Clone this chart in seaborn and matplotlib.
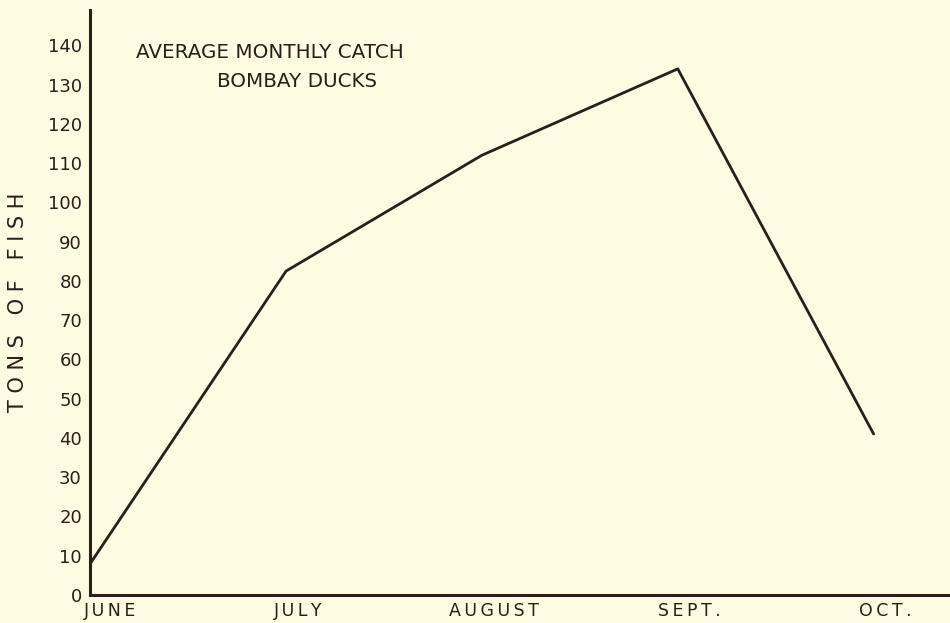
import matplotlib
matplotlib.use("Agg")
import matplotlib.pyplot as plt
import matplotlib.transforms as mtransforms
import seaborn as sns
import pandas as pd

# Average monthly catch of Bombay ducks, tons of fish
months = ["JUNE", "JULY", "AUGUST", "SEPT.", "OCT."]
tons = [8, 82.5, 112, 134, 41]
y_ticks = list(range(0, 150, 10))

paper = "#fdfce2"
ink = "#2b1d17"

sns.set_theme(style="white")
plt.rcParams["font.family"] = ["DejaVu Sans"]

df = pd.DataFrame({"month": months, "tons": tons})

fig = plt.figure(figsize=(9.5, 6.23), dpi=100, facecolor=paper)
ax = fig.add_axes([0.095, 0.045, 0.905, 0.939])
ax.set_facecolor(paper)

sns.lineplot(data=df, x="month", y="tons", ax=ax, color=ink, linewidth=2.0,
             sort=False)

ax.set_xlim(0, 4.39)
ax.set_ylim(0, 149)
ax.set_yticks(y_ticks)
ax.set_yticklabels([str(v) for v in y_ticks])
ax.set_xticks(range(len(months)))
# hand-lettered look: letters spaced apart with thin spaces
ax.set_xticklabels(["\u2009".join(m) for m in months])

for side in ("top", "right"):
    ax.spines[side].set_visible(False)
for side in ("left", "bottom"):
    ax.spines[side].set_color(ink)
    ax.spines[side].set_linewidth(2.2)

ax.tick_params(axis="y", direction="inout", length=8, width=1.2, colors=ink,
               labelsize=13, pad=2)
ax.tick_params(axis="x", direction="in", length=6, width=1.2, colors=ink,
               labelsize=12.5, pad=5)
shift = mtransforms.ScaledTranslation(0.12, 0, fig.dpi_scale_trans)
first_shift = mtransforms.ScaledTranslation(0.2, 0, fig.dpi_scale_trans)
for i, lab in enumerate(ax.get_xticklabels()):
    lab.set_color(ink)
    lab.set_transform(lab.get_transform() + (first_shift if i == 0 else shift))
for lab in ax.get_yticklabels():
    lab.set_color(ink)

ax.set_xlabel("")
ax.set_ylabel("T O N S   O F   F I S H", fontsize=15, color=ink, labelpad=14)

ax.text(0.053, 0.928, "AVERAGE MONTHLY CATCH", transform=ax.transAxes,
        fontsize=14.3, color=ink, ha="left", va="center")
ax.text(0.148, 0.877, "BOMBAY DUCKS", transform=ax.transAxes,
        fontsize=14.3, color=ink, ha="left", va="center")

fig.savefig("out.png", dpi=100, facecolor=paper)
